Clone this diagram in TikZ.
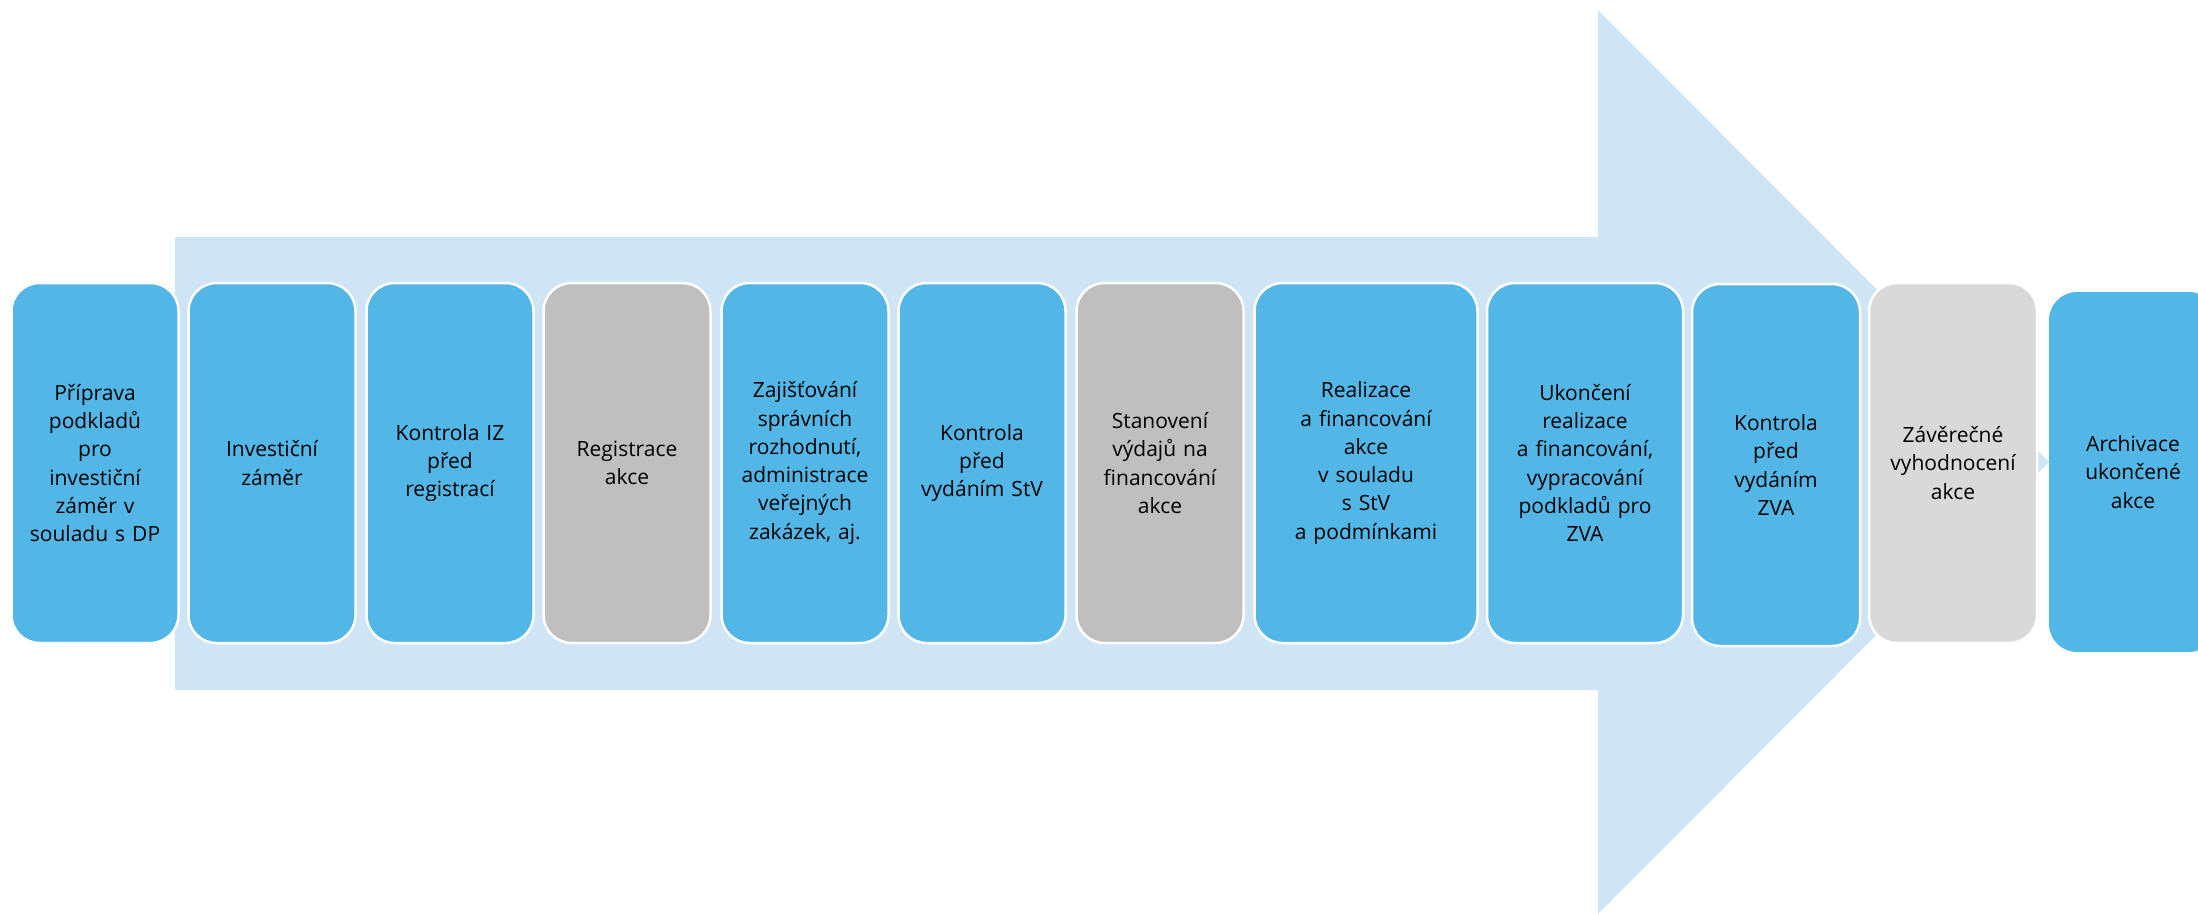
\documentclass[tikz,border=0pt]{standalone}
\usepackage{fontspec}
\setmainfont{Open Sans}
\definecolor{arrowbg}{HTML}{CFE4F5}
\definecolor{stepblue}{HTML}{52B6E7}
\definecolor{stepgray}{HTML}{BFBFBF}
\definecolor{steplight}{HTML}{D9D9D9}
\tikzset{
  stepbox/.style={rectangle, rounded corners=28pt, draw=white, line width=2.5pt,
    fill=stepblue, minimum height=360pt, inner sep=2pt, align=center,
    text width=160pt, font=\fontsize{21}{28.3}\selectfont, text=black},
  graybox/.style={stepbox, fill=stepgray},
  lightbox/.style={stepbox, fill=steplight}
}
\begin{document}
\begin{tikzpicture}[x=1pt,y=-1pt]
\useasboundingbox (0,0) rectangle (2198,913);
\begin{scope}
\clip (0,0) rectangle (2198,913);
\fill[arrowbg] (175,237) -- (1598,237) -- (1598,10) -- (2049,462) -- (1598,914) -- (1598,690) -- (175,690) -- cycle;
\node[stepbox, minimum width=167pt] (b1) at (95,463) {Příprava\\podkladů\\pro\\investiční\\záměr v\\souladu s DP};
\node[stepbox, minimum width=167pt] (b2) at (272,463) {Investiční\\záměr};
\node[stepbox, minimum width=167pt] (b3) at (450,463) {Kontrola IZ\\před\\registrací};
\node[graybox, minimum width=167pt] (b4) at (627,463) {Registrace\\akce};
\node[stepbox, minimum width=167pt] (b5) at (805,463) {Zajišťování\\správních\\rozhodnutí,\\administrace\\veřejných\\zakázek, aj.};
\node[stepbox, minimum width=167pt] (b6) at (982,463) {Kontrola\\před\\vydáním StV};
\node[graybox, minimum width=167pt] (b7) at (1160,463) {Stanovení\\výdajů na\\financování\\akce};
\node[stepbox, minimum width=223pt, text width=215pt] (b8) at (1366,463) {Realizace\\a financování\\akce\\v souladu\\s StV\\a podmínkami};
\node[stepbox, minimum width=196pt, text width=190pt] (b9) at (1585,463) {Ukončení\\realizace\\a financování,\\vypracování\\podkladů pro\\ZVA};
\node[stepbox, minimum width=168pt, minimum height=362pt] (b10) at (1776,465) {Kontrola\\před\\vydáním\\ZVA};
\node[lightbox, minimum width=168pt] (b11) at (1953,463) {Závěrečné\\vyhodnocení\\akce};
\node[stepbox, minimum width=168pt, draw=none] (b12) at (2133,472) {Archivace\\ukončené\\akce};
\end{scope}
\end{tikzpicture}
\end{document}
